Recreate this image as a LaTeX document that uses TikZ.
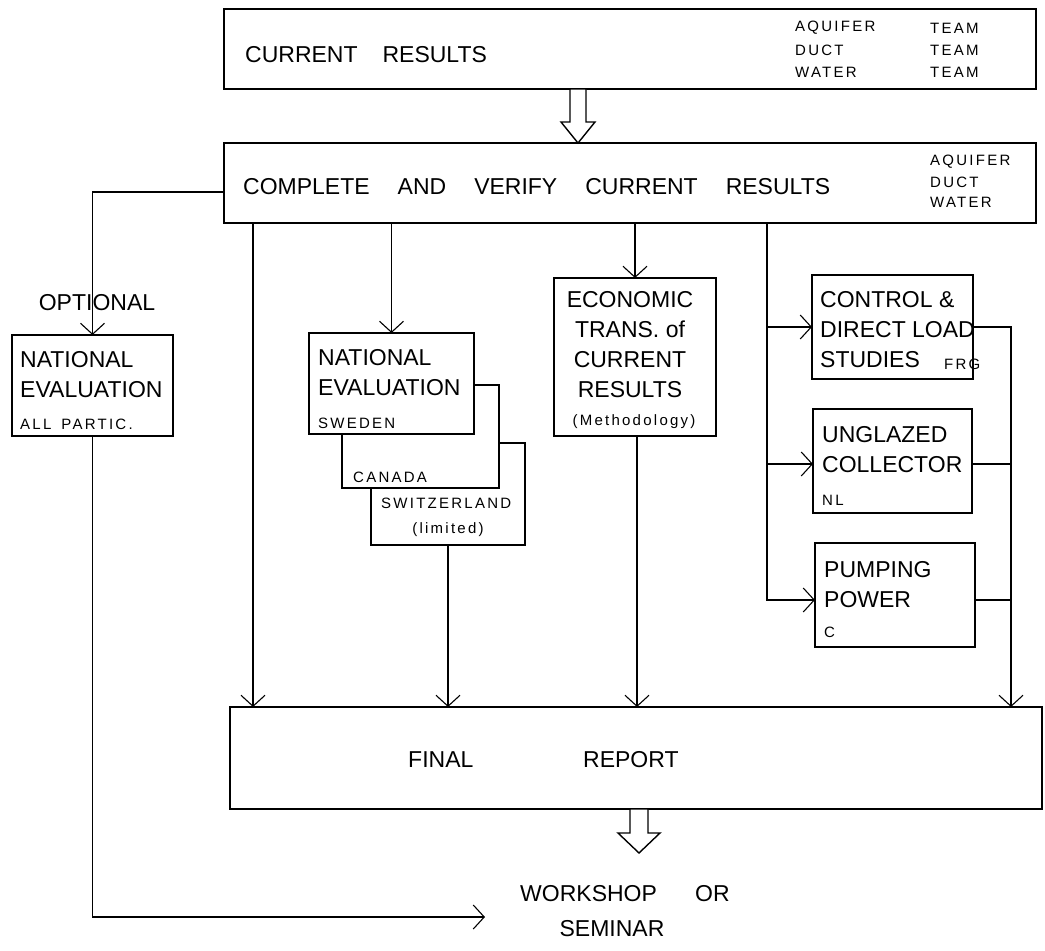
\documentclass[tikz,border=0pt]{standalone}
\usepackage{fontspec}
\setmainfont{Liberation Sans}
\newfontfamily\spacedfont[LetterSpace=15]{Liberation Sans}
\usetikzlibrary{arrows.meta,calc}
\begin{document}
\begin{tikzpicture}[x=1pt,y=-1pt,
  box/.style={draw, line width=1.8pt, fill=white, inner sep=0pt, outer sep=0pt, anchor=north west},
  big/.style={font=\fontsize{23}{30}\selectfont, inner sep=0pt, align=left},
  sm/.style={font=\spacedfont\fontsize{15}{20}\selectfont, inner sep=0pt, anchor=west},
  conn/.style={line width=1.1pt},
  arr/.style={conn, -{Straight Barb[length=11pt,width=24pt,line width=1.1pt]}},
  hollow/.style={draw, line width=1.4pt, fill=white, line join=miter}
]
\useasboundingbox (0,0) rectangle (1045,951);

% ---------- boxes ----------
\node[box, minimum width=812pt, minimum height=80pt] (top) at (224,9) {};
\node[box, minimum width=812pt, minimum height=80pt] (box2) at (224,143) {};
\node[box, minimum width=161pt, minimum height=101pt] (natl) at (12,335) {};
\node[box, minimum width=154pt, minimum height=102pt] (swz) at (371,443) {};
\node[box, minimum width=157pt, minimum height=103pt] (can) at (342,385) {};
\node[box, minimum width=165pt, minimum height=101pt] (swe) at (309,333) {};
\node[box, minimum width=162pt, minimum height=158pt] (econ) at (554,278) {};
\node[box, minimum width=161pt, minimum height=104pt] (ctrl) at (812,275) {};
\node[box, minimum width=159pt, minimum height=104pt] (ungl) at (813,409) {};
\node[box, minimum width=160pt, minimum height=104pt] (pump) at (815,543) {};
\node[box, minimum width=812pt, minimum height=102pt] (final) at (230,707) {};

% ---------- texts ----------
\node[big, anchor=west] (t1) at (245,55) {CURRENT\hspace{25pt}RESULTS};
\node[sm] (t1a) at (795,28) {AQUIFER};
\node[sm] (t1b) at (795,50) {DUCT};
\node[sm] (t1c) at (795,72) {WATER};
\node[sm] (t1d) at (930,28) {TEAM};
\node[sm] (t1e) at (930,50) {TEAM};
\node[sm] (t1f) at (930,72) {TEAM};

\node[big, anchor=west] (t2) at (243,187) {COMPLETE\hspace{28pt}AND\hspace{28pt}VERIFY\hspace{28pt}CURRENT\hspace{28pt}RESULTS};
\node[sm] (t2a) at (930,162) {AQUIFER};
\node[sm] (t2b) at (930,182) {DUCT};
\node[sm] (t2c) at (930,202) {WATER};

\node[big, anchor=center] (opt) at (97,303) {OPTIONAL};
\node[big, anchor=north west] (tn) at (20,351) {NATIONAL\\EVALUATION};
\node[sm] (tna) at (20,424) {ALL\hspace{10pt}PARTIC.};

\node[big, anchor=north west] (tsw) at (318,349) {NATIONAL\\EVALUATION};
\node[sm] (tswa) at (318,423) {SWEDEN};
\node[sm] (tcan) at (353,477) {CANADA};
\node[sm] (tswz) at (381,503) {SWITZERLAND};
\node[sm, anchor=center] (tlim) at (448,530) {(limited)};

\node[big, anchor=north, align=center] (tec) at (630,291) {ECONOMIC\\TRANS. of\\CURRENT\\RESULTS};
\node[sm, anchor=center] (tecm) at (634,422) {(Methodology)};

\node[big, anchor=north west] (tct) at (820,291) {CONTROL \&\\DIRECT LOAD\\STUDIES};
\node[sm] (tcta) at (944,364) {FRG};
\node[big, anchor=north west] (tun) at (822,426) {UNGLAZED\\COLLECTOR};
\node[sm] (tuna) at (822,500) {NL};
\node[big, anchor=north west] (tpu) at (824,561) {PUMPING\\POWER};
\node[sm] (tpua) at (824,632) {C};

\node[big, anchor=west] (tf1) at (408,760) {FINAL};
\node[big, anchor=west] (tf2) at (583,760) {REPORT};

\node[big, anchor=west] (ws) at (520,894) {WORKSHOP};
\node[big, anchor=west] (wor) at (695,894) {OR};
\node[big, anchor=center] (sem) at (612,929) {SEMINAR};

% ---------- hollow arrows ----------
\coordinate (h1) at ([xshift=-52pt]top.south);
\draw[hollow] ([xshift=-8pt]h1) -- ++(0,33) -- ++(-9,0) -- (h1 |- box2.north) -- ++(17,-21) -- ++(-9,0) -- ++(0,-33) -- cycle;
\coordinate (h2) at ([xshift=3pt]final.south);
\draw[hollow] ([xshift=-9pt]h2) -- ++(0,24) -- ++(-12,0) -- ++(21,20) -- ++(21,-20) -- ++(-12,0) -- ++(0,-24) -- cycle;

% ---------- connectors ----------
\draw[arr] ([yshift=-9pt]box2.west) -| (natl.north);
\coordinate (wsin) at (485,917);
\draw[arr] (natl.south) |- (wsin);

\coordinate (v1) at ([xshift=29pt]box2.south west);
\draw[arr] (v1) -- (v1 |- final.north);
\draw[arr] (box2.south -| swe.north) -- (swe.north);
\draw[arr] (box2.south -| econ.north) -- (econ.north);
\coordinate (v4) at ([xshift=2pt]econ.south);
\draw[arr] (v4) -- (v4 |- final.north);
\draw[arr] (swz.south) -- (swz.south |- final.north);

\coordinate (v5) at ([xshift=-269pt]box2.south east);
\coordinate (uw) at ([yshift=-3pt]ungl.west);
\coordinate (ue) at ([yshift=-3pt]ungl.east);
\coordinate (pw) at ([yshift=-5pt]pump.west);
\coordinate (pe) at ([yshift=-5pt]pump.east);
\draw[arr] (v5) |- (pw);
\draw[arr] (v5 |- ctrl.west) -- (ctrl.west);
\draw[arr] (v5 |- uw) -- (uw);

\coordinate (m) at ([xshift=38pt]ctrl.east);
\draw[conn] (ue) -- (ue -| m);
\draw[conn] (pe) -- (pe -| m);
\draw[arr] (ctrl.east) -- (m) -- (m |- final.north);
\end{tikzpicture}
\end{document}
